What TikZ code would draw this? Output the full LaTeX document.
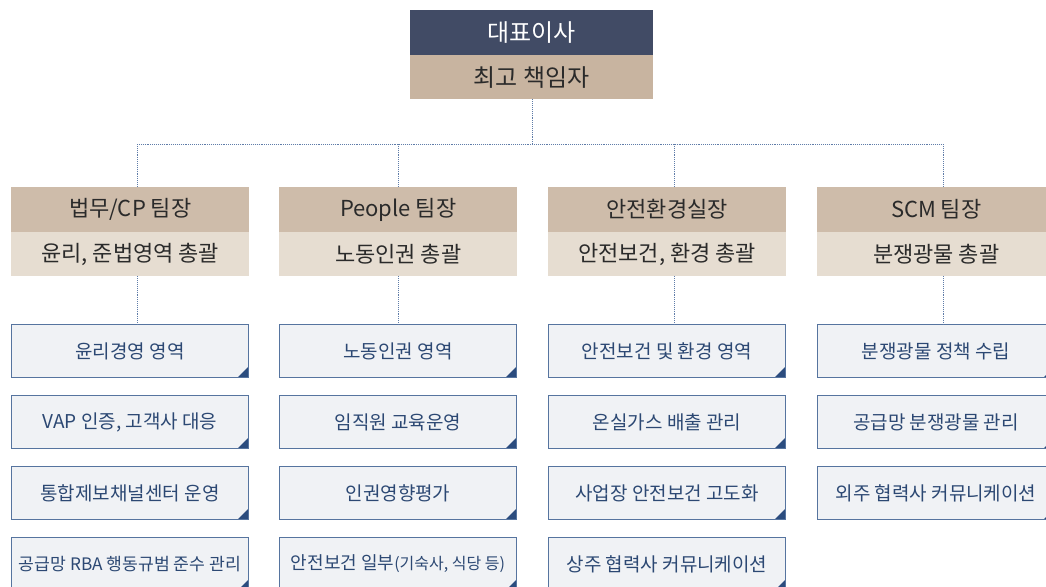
\documentclass[tikz,border=0pt]{standalone}
\usepackage{fontspec}
\setmainfont{Noto Sans CJK KR}
\definecolor{ceodark}{HTML}{414B65}
\definecolor{ceotan}{HTML}{C8B4A0}
\definecolor{headtop}{HTML}{CEBCAA}
\definecolor{headbot}{HTML}{E6DDD1}
\definecolor{itemfill}{HTML}{F0F2F5}
\definecolor{itemdraw}{HTML}{56749F}
\definecolor{itemtri}{HTML}{2B4C7E}
\definecolor{itemtext}{HTML}{2C4873}
\definecolor{conncol}{HTML}{5F7CA8}
\definecolor{darktext}{HTML}{2A2A2A}
\begin{document}
\begin{tikzpicture}[x=1pt,y=-1pt,
  ceotop/.style={anchor=north west,minimum width=243pt,minimum height=45pt,inner sep=0pt,fill=ceodark,text=white,font=\fontsize{24}{28}\selectfont},
  ceobot/.style={anchor=north west,minimum width=243pt,minimum height=44pt,inner sep=0pt,fill=ceotan,text=darktext,font=\fontsize{24}{28}\selectfont},
  headA/.style={anchor=north west,minimum width=238pt,minimum height=45pt,inner sep=0pt,fill=headtop,text=darktext,font=\fontsize{22}{26}\selectfont},
  headB/.style={anchor=north west,minimum width=238pt,minimum height=44pt,inner sep=0pt,fill=headbot,text=darktext,font=\fontsize{22}{26}\selectfont},
  itembox/.style={anchor=north west,minimum width=237pt,minimum height=53pt,inner sep=0pt,fill=itemfill,draw=itemdraw,line width=1pt,text=itemtext,font=\fontsize{19}{22}\selectfont,
    path picture={\fill[itemtri] (path picture bounding box.south east) -- ++(-11pt,0pt) -- ++(11pt,11pt) -- cycle;}},
  conn/.style={draw=conncol,line width=0.9pt,densely dotted}
]
\useasboundingbox (0,0) rectangle (1046,586);
% top
\node[ceotop] (ceo) at (410,10) {대표이사};
\node[ceobot] (ceo2) at (410,55) {최고 책임자};
% headers
\node[headA] (h1) at (11,187) {법무/CP 팀장};
\node[headB] (s1) at (11,232) {윤리, 준법영역 총괄};
\node[headA] (h2) at (279,187) {People 팀장};
\node[headB] (s2) at (279,232) {노동인권 총괄};
\node[headA] (h3) at (548,187) {안전환경실장};
\node[headB] (s3) at (548,232) {안전보건, 환경 총괄};
\node[headA] (h4) at (817,187) {SCM 팀장};
\node[headB] (s4) at (817,232) {분쟁광물 총괄};
% items col 1
\node[itembox] (a11) at (11,324) {윤리경영 영역};
\node[itembox] (a12) at (11,395) {VAP 인증, 고객사 대응};
\node[itembox] (a13) at (11,466) {통합제보채널센터 운영};
\node[itembox,font=\fontsize{17.2}{20}\selectfont] (a14) at (11,537) {공급망 RBA 행동규범 준수 관리};
% items col 2
\node[itembox] (a21) at (279,324) {노동인권 영역};
\node[itembox] (a22) at (279,395) {임직원 교육운영};
\node[itembox] (a23) at (279,466) {인권영향평가};
\node[itembox,font=\fontsize{18}{20}\selectfont] (a24) at (279,537) {안전보건 일부{\fontsize{16}{20}\selectfont(기숙사, 식당 등)}};
% items col 3
\node[itembox] (a31) at (548,324) {안전보건 및 환경 영역};
\node[itembox] (a32) at (548,395) {온실가스 배출 관리};
\node[itembox] (a33) at (548,466) {사업장 안전보건 고도화};
\node[itembox] (a34) at (548,537) {상주 협력사 커뮤니케이션};
% items col 4
\node[itembox] (a41) at (817,324) {분쟁광물 정책 수립};
\node[itembox] (a42) at (817,395) {공급망 분쟁광물 관리};
\node[itembox] (a43) at (817,466) {외주 협력사 커뮤니케이션};
% connectors
\coordinate (top) at (532,144);
\coordinate (b1) at (137,144);
\coordinate (b2) at (398,144);
\coordinate (b3) at (674,144);
\coordinate (b4) at (943,144);
\draw[conn] (ceo2.south -| top) -- (top);
\draw[conn] (b1) -- (b4);
\draw[conn] (b1) -- (b1 |- h1.north);
\draw[conn] (b2) -- (b2 |- h2.north);
\draw[conn] (b3) -- (b3 |- h3.north);
\draw[conn] (b4) -- (b4 |- h4.north);
\draw[conn] (s1.south -| b1) -- (b1 |- a11.north);
\draw[conn] (s2.south -| b2) -- (b2 |- a21.north);
\draw[conn] (s3.south -| b3) -- (b3 |- a31.north);
\draw[conn] (s4.south -| b4) -- (b4 |- a41.north);
\end{tikzpicture}
\end{document}
